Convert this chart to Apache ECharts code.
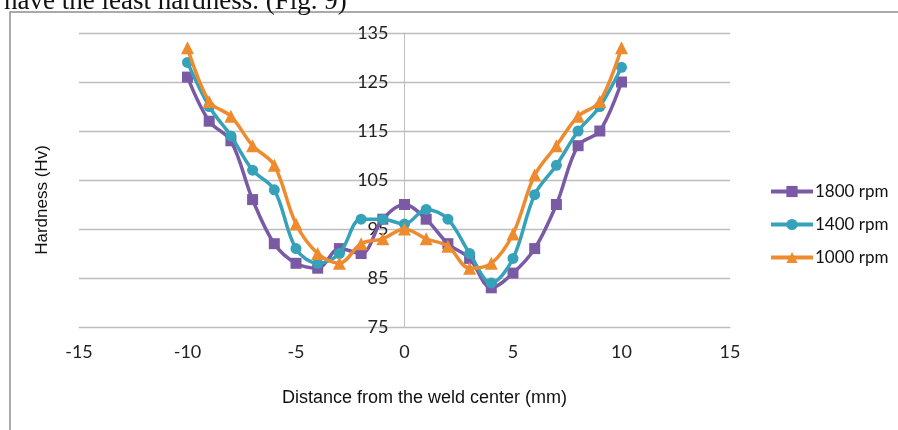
<!DOCTYPE html>
<html>
<head>
<meta charset="utf-8">
<script src="https://cdn.jsdelivr.net/npm/echarts@6/dist/echarts.min.js"></script>
<style>
html,body{margin:0;padding:0;background:#fff;}
#chart{width:898px;height:430px;}
</style>
</head>
<body>
<div id="chart"></div>
<script>
const distance = [-10,-9,-8,-7,-6,-5,-4,-3,-2,-1,0,1,2,3,4,5,6,7,8,9,10];
const rpm1800 = [126,117,113,101,92,88,87,91,90,97,100,97,92,89,83,86,91,100,112,115,125];
const rpm1400 = [129,120,114,107,103,91,88,90,97,97,96,99,97,90,84,89,102,108,115,120,128];
const rpm1000 = [132,121,118,112,108,96,90,88,92,93,95,93,91.5,87,88,94,106,112,118,121,132];
const seriesNames = ['1800 rpm','1400 rpm','1000 rpm'];
const xTicks = [-15,-10,-5,0,5,10,15];
const yTicks = [75,85,95,105,115,125,135];

const colors = ['#7A59A5','#35A2BA','#EE8B2F'];
const symbols = ['rect','circle','triangle'];
const symbolSizes = [11,11,13];
const seriesData = [rpm1800, rpm1400, rpm1000];

const gridLeft = 79, gridRight = 168, W = 898;
const plotW = W - gridLeft - gridRight;
const zeroOffset = -plotW * (0 - xTicks[0]) / (xTicks[xTicks.length-1] - xTicks[0]);

const chart = echarts.init(document.getElementById('chart'));
chart.setOption({
  animation: false,
  backgroundColor: '#fff',
  grid: { left: gridLeft, right: gridRight, top: 33, bottom: 103 },
  xAxis: {
    type: 'value',
    min: xTicks[0], max: xTicks[xTicks.length-1], interval: 5,
    splitLine: { show: false },
    axisLine: { show: true, lineStyle: { color: '#BDBDBD', width: 1 } },
    axisTick: { show: false },
    axisLabel: { margin: 16, fontFamily: 'Lato', fontSize: 18, color: '#222' },
    name: 'Distance from the weld center (mm)',
    nameLocation: 'middle',
    nameGap: 62,
    nameTextStyle: { fontFamily: 'Liberation Sans', fontSize: 18, color: '#111', padding: [0,0,0,40] }
  },
  yAxis: {
    type: 'value',
    min: yTicks[0], max: yTicks[yTicks.length-1],
    offset: zeroOffset,
    axisLine: { show: true, onZero: false, lineStyle: { color: '#BDBDBD', width: 1 } },
    axisTick: { show: false, customValues: yTicks },
    axisLabel: { customValues: yTicks, margin: 16, fontFamily: 'Lato', fontSize: 18, color: '#222' },
    splitLine: { show: true, lineStyle: { color: '#BDBDBD', width: 1.3 } }
  },
  legend: {
    orient: 'vertical',
    left: 764,
    top: 178,
    itemWidth: 42,
    itemHeight: 14,
    itemGap: 16,
    lineStyle: { width: 4 },
    textStyle: { fontFamily: 'Lato', fontSize: 17, color: '#111', padding: [0,0,0,-3] },
    data: seriesNames
  },
  graphic: [
    {
      type: 'rect',
      shape: { x: 10, y: 12, width: 1000, height: 1000 },
      style: { fill: 'none', stroke: '#8E8E8E', lineWidth: 1.5 },
      silent: true, z: -10
    },
    {
      type: 'text',
      left: 4, top: -12,
      style: { text: 'have the least hardness. (Fig. 9)', font: '27px "Liberation Serif"', fill: '#111' }
    },
    {
      type: 'text',
      x: 42, y: 200,
      rotation: Math.PI / 2,
      style: { text: 'Hardness (Hv)', font: '17px "Liberation Sans"', fill: '#111', align: 'center', verticalAlign: 'middle' }
    }
  ],
  series: seriesNames.map((n, i) => ({
    name: n,
    type: 'line',
    smooth: 0.35,
    data: distance.map((d, j) => [d, seriesData[i][j]]),
    symbol: symbols[i],
    symbolSize: symbolSizes[i],
    showAllSymbol: true,
    itemStyle: { color: colors[i] },
    lineStyle: { color: colors[i], width: 3.5 },
    z: 2 + i
  }))
});
</script>
</body>
</html>
